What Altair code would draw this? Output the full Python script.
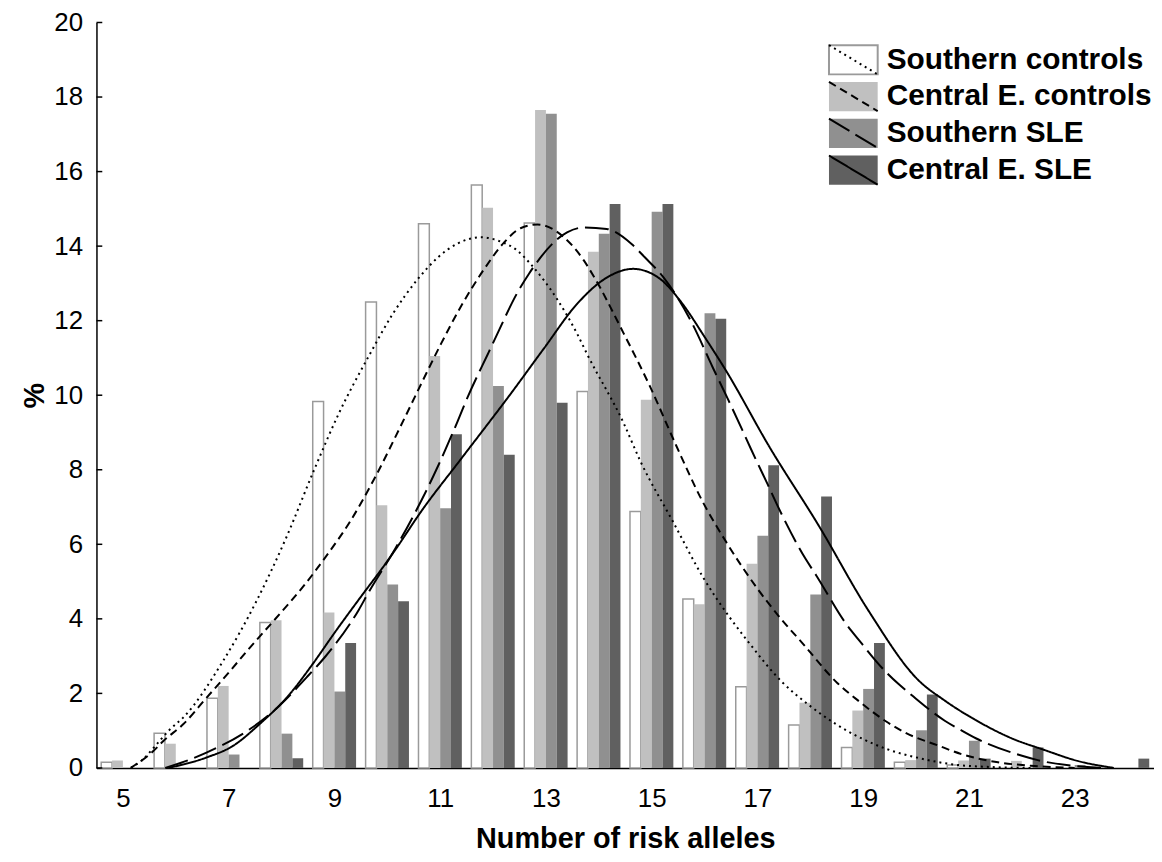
import altair as alt
import pandas as pd

# ---------------- data ----------------
alleles = list(range(5, 25))
series_names = ["Southern controls", "Central E. controls", "Southern SLE", "Central E. SLE"]

southern_controls = [0.15, 0.93, 1.87, 3.90, 9.83, 12.50, 14.60, 15.64, 14.62, 10.10, 6.88, 4.53, 2.18, 1.15, 0.55, 0.15, 0.08, 0, 0, 0]
central_controls = [0.20, 0.65, 2.20, 3.96, 4.17, 7.05, 11.05, 15.03, 17.65, 13.85, 9.88, 4.39, 5.48, 1.75, 1.54, 0.21, 0.20, 0.19, 0, 0]
southern_sle = [0, 0, 0.36, 0.92, 2.05, 4.92, 6.97, 10.25, 17.55, 14.33, 14.92, 12.20, 6.23, 4.65, 2.12, 1.01, 0.73, 0, 0.08, 0]
central_sle = [0, 0, 0, 0.26, 3.35, 4.47, 8.95, 8.40, 9.80, 15.13, 15.13, 12.05, 8.12, 7.28, 3.35, 1.97, 0.25, 0.55, 0, 0.25]

# fitted curves
sc_curve_x = [5.15, 5.38, 5.63, 5.88, 6.14, 6.89, 7.52, 8.08, 8.62, 9.08, 9.65, 10.09, 10.58, 10.96, 11.33, 11.77, 12.09, 12.46, 12.71, 13.21, 13.59, 13.78, 14.47, 14.78, 15.41, 15.97, 16.47, 16.79, 17.47, 17.98, 18.48, 19.42, 20.04, 20.67, 21.5, 22.2]
sc_curve_y = [0.0, 0.23, 0.62, 1.02, 1.35, 2.86, 4.46, 6.15, 8.01, 9.50, 11.05, 12.15, 13.12, 13.70, 14.07, 14.24, 14.15, 13.88, 13.52, 12.58, 11.65, 11.10, 9.25, 8.25, 6.59, 5.12, 4.05, 3.45, 2.30, 1.68, 1.18, 0.52, 0.27, 0.10, 0.02, 0.0]

cc_curve_x = [5.15, 5.58, 5.77, 6.14, 6.58, 7.02, 7.39, 7.89, 8.40, 8.90, 9.27, 9.77, 10.27, 10.65, 11.02, 11.40, 11.84, 12.21, 12.52, 12.84, 13.34, 13.72, 13.90, 14.47, 14.97, 15.47, 15.94, 16.41, 17.00, 17.44, 17.85, 18.51, 18.92, 19.42, 19.79, 20.42, 20.86, 21.55, 22.17, 23.0]
cc_curve_y = [0.0, 0.46, 0.73, 1.17, 1.88, 2.59, 3.21, 4.01, 4.85, 5.79, 6.55, 7.80, 9.22, 10.33, 11.39, 12.40, 13.40, 14.10, 14.48, 14.58, 14.24, 13.61, 13.20, 11.66, 10.23, 8.63, 7.21, 6.06, 4.81, 4.01, 3.35, 2.28, 1.79, 1.26, 0.95, 0.60, 0.37, 0.15, 0.06, 0.0]

ss_curve_x = [5.80, 6.20, 6.58, 7.39, 7.77, 8.52, 8.83, 9.46, 9.65, 10.15, 10.96, 11.33, 11.52, 11.90, 12.05, 12.46, 12.68, 13.40, 13.72, 14.15, 14.62, 14.87, 15.22, 15.75, 16.16, 16.44, 16.72, 16.88, 17.19, 17.44, 17.91, 18.11, 18.67, 18.92, 19.42, 19.67, 19.92, 20.55, 20.83, 21.14, 22.02, 22.30, 23.18, 23.5]
ss_curve_y = [0.0, 0.19, 0.41, 1.03, 1.43, 2.50, 2.99, 4.24, 4.72, 5.88, 8.10, 9.30, 9.95, 11.10, 11.55, 12.75, 13.26, 14.37, 14.50, 14.46, 14.06, 13.70, 13.17, 11.97, 10.73, 9.90, 9.05, 8.55, 7.62, 6.86, 5.61, 5.17, 3.88, 3.43, 2.59, 2.25, 1.95, 1.26, 1.03, 0.79, 0.32, 0.21, 0.03, 0.0]

cs_curve_x = [5.86, 6.58, 7.08, 7.58, 8.15, 8.58, 9.02, 9.52, 9.90, 10.15, 10.65, 11.40, 12.34, 12.96, 13.59, 14.09, 14.65, 15.16, 15.53, 16.03, 16.41, 17.22, 18.16, 19.10, 20.04, 20.55, 21.17, 21.80, 22.43, 23.05, 23.74]
cs_curve_y = [0.0, 0.28, 0.59, 1.17, 1.97, 2.77, 3.66, 4.63, 5.35, 5.85, 6.90, 8.30, 10.05, 11.25, 12.45, 13.10, 13.39, 13.12, 12.55, 11.50, 10.65, 8.63, 6.50, 4.22, 2.36, 1.80, 1.25, 0.80, 0.48, 0.19, 0.0]

x_tick_labels = [5, 7, 9, 11, 13, 15, 17, 19, 21, 23]
y_tick_labels = [0, 2, 4, 6, 8, 10, 12, 14, 16, 18, 20]

# ---------------- styling ----------------
bar_colors = ["#ffffff", "#c0c0c0", "#909090", "#606060"]
dash_patterns = [[2, 4], [8, 5], [24, 7], [1, 0]]
FONT = "Liberation Sans"

bar_values = [southern_controls, central_controls, southern_sle, central_sle]
rows = []
for slot, (name, vals) in enumerate(zip(series_names, bar_values)):
    for k, v in zip(alleles, vals):
        rows.append({"series": name, "allele": k, "pct": v, "slot": slot})
bars_df = pd.DataFrame(rows)

curves = [(sc_curve_x, sc_curve_y), (cc_curve_x, cc_curve_y), (ss_curve_x, ss_curve_y), (cs_curve_x, cs_curve_y)]
crow = []
for name, (xs, ys) in zip(series_names, curves):
    for x, y in zip(xs, ys):
        crow.append({"curve": name, "k": x, "pct": y})
curves_df = pd.DataFrame(crow)

ticks_df = pd.DataFrame({"tick": y_tick_labels})

xscale = alt.Scale(domain=[4.5, 24.5], nice=False, zero=False)
yscale = alt.Scale(domain=[0, 20], nice=False)

xaxis = alt.Axis(values=x_tick_labels, ticks=False, tickSize=0, grid=False,
                 labelFontSize=26, labelFont=FONT, labelColor="black", labelPadding=18,
                 domainColor="black", domainWidth=1.5,
                 title="Number of risk alleles", titleFontSize=29, titleFont=FONT,
                 titleFontWeight="bold", titleColor="black",
                 titleY=80, titleBaseline="alphabetic", titleAlign="center")
yaxis = alt.Axis(values=y_tick_labels, ticks=False, tickSize=0, grid=False,
                 labelFontSize=26, labelFont=FONT, labelColor="black", labelPadding=14,
                 domainColor="black", domainWidth=1.5,
                 title="%", titleFontSize=29, titleFont=FONT, titleFontWeight="bold",
                 titleColor="black", titleX=-62, titleY=375, titleAngle=270,
                 titleAlign="center", titleBaseline="middle")

# legend swatch: 49 x 29 px box (path wider than the nominal symbol size)
rect_path = "M-1.6,-0.96L1.6,-0.96L1.6,0.96L-1.6,0.96Z"
diag_path = "M-1.6,-0.96L1.6,0.96"
legend_common = dict(orient="none", legendX=745, legendY=21, title=None,
                     symbolSize=938, symbolStrokeWidth=2, labelFontSize=30,
                     labelFont=FONT, labelFontWeight="bold", labelColor="black",
                     labelOffset=17, labelLimit=600, rowPadding=-2, padding=0)

fill_legend = alt.Legend(
    symbolType=rect_path, zindex=1,
    symbolStrokeColor={"expr": "datum.value === 'Southern controls' ? '#9a9a9a' : 'transparent'"},
    **legend_common)
dash_legend = alt.Legend(symbolType=diag_path, zindex=2, symbolStrokeColor="black",
                         symbolFillColor="transparent", labelOpacity=0, **legend_common)

bars = alt.Chart(bars_df).transform_filter("datum.pct > 0").transform_calculate(
    x0="datum.allele - 0.41 + 0.205 * datum.slot",
    x1="datum.allele - 0.41 + 0.205 * (datum.slot + 1)",
).mark_bar(stroke="#9a9a9a").encode(
    x=alt.X("x0:Q", scale=xscale, axis=xaxis),
    x2="x1:Q",
    y=alt.Y("pct:Q", scale=yscale, axis=yaxis),
    y2=alt.datum(0),
    fill=alt.Fill("series:N", scale=alt.Scale(domain=series_names, range=bar_colors), legend=fill_legend),
    strokeWidth=alt.condition("datum.series === 'Southern controls'", alt.value(1.5), alt.value(0)),
)

lines = alt.Chart(curves_df).mark_line(color="black", strokeWidth=2, interpolate="monotone").encode(
    x=alt.X("k:Q", scale=xscale, axis=xaxis),
    y=alt.Y("pct:Q", scale=yscale, axis=yaxis),
    strokeDash=alt.StrokeDash("curve:N", sort=series_names, scale=alt.Scale(range=dash_patterns), legend=dash_legend),
)

yticks = alt.Chart(ticks_df).mark_rule(color="black", strokeWidth=1.5).encode(
    x=alt.datum(4.5, scale=xscale),
    x2=alt.datum(4.61),
    y=alt.Y("tick:Q", scale=yscale, axis=yaxis),
)

chart = alt.layer(bars, lines, yticks).properties(
    width=1064, height=750,
    autosize=alt.AutoSizeParams(type="none"),
    padding={"left": 89, "top": 12, "right": 0, "bottom": 83},
).configure(background="white").configure_view(strokeWidth=0, stroke="transparent")

chart.save("out.html", embed_options={"renderer": "svg", "actions": False})
